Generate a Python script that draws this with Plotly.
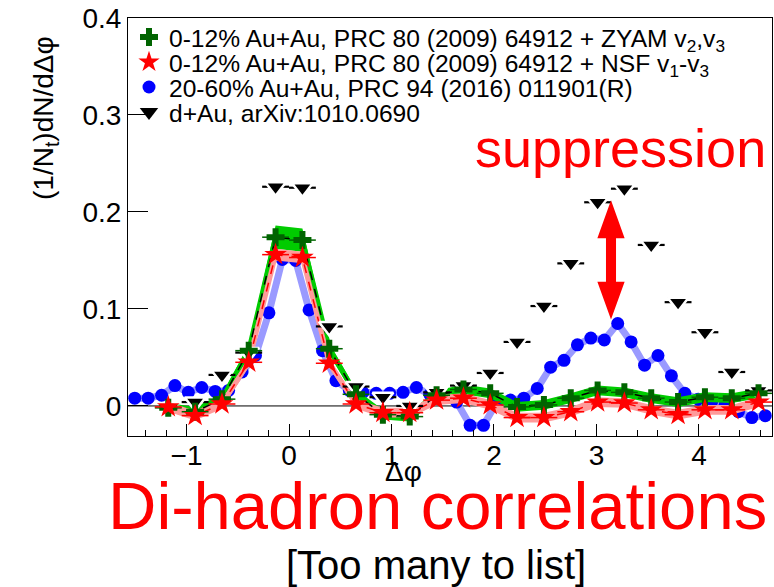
import plotly.graph_objects as go
import numpy as np

# ---------------- data ----------------
# PRC 80 (2009) 064912 bins (pi/12 wide)
prc80_x = [-1.178, -0.916, -0.654, -0.393, -0.131, 0.131, 0.393, 0.654, 0.916, 1.178,
           1.440, 1.702, 1.963, 2.225, 2.487, 2.749, 3.011, 3.272, 3.534, 3.796,
           4.058, 4.320, 4.581]
zyam_y = [-0.002, -0.006, 0.007, 0.057, 0.174, 0.171, 0.059, 0.012, -0.009, -0.011,
          0.011, 0.017, 0.013, -0.001, 0.001, 0.008, 0.016, 0.014, 0.008, 0.004,
          0.009, 0.008, 0.013]
zyam_sys = [0.005, 0.005, 0.005, 0.006, 0.012, 0.012, 0.006, 0.005, 0.005, 0.005,
            0.005, 0.005, 0.005, 0.005, 0.005, 0.005, 0.005, 0.005, 0.005, 0.005,
            0.005, 0.005, 0.005]
nsf_y = [-0.001, -0.010, 0.002, 0.045, 0.156, 0.153, 0.044, 0.002, -0.007, -0.007,
         0.006, 0.008, 0.001, -0.012, -0.012, -0.006, 0.004, 0.003, -0.004, -0.009,
         -0.004, -0.004, 0.004]
nsf_sys = [0.005, 0.005, 0.005, 0.005, 0.006, 0.006, 0.005, 0.005, 0.005, 0.005,
           0.005, 0.005, 0.005, 0.005, 0.005, 0.005, 0.005, 0.005, 0.005, 0.005,
           0.005, 0.005, 0.005]
bin_half = 0.131

# PRC 94 (2016) 011901(R) bins (pi/24 wide)
prc94_x = [-1.505, -1.374, -1.243, -1.113, -0.982, -0.851, -0.720, -0.589, -0.458, -0.327,
           -0.196, -0.065, 0.065, 0.196, 0.327, 0.458, 0.589, 0.720, 0.851, 0.982,
           1.113, 1.243, 1.374, 1.505, 1.636, 1.767, 1.898, 2.029, 2.160, 2.291,
           2.422, 2.553, 2.683, 2.814, 2.945, 3.076, 3.207, 3.338, 3.469, 3.600,
           3.731, 3.862, 3.992, 4.123, 4.254, 4.385, 4.516, 4.647]
prc94_y = [0.008, 0.008, 0.011, 0.021, 0.014, 0.019, 0.015, 0.016, 0.035, 0.052,
           0.096, 0.151, 0.150, 0.099, 0.057, 0.026, 0.016, 0.014, 0.013, 0.013,
           0.014, 0.019, 0.012, 0.010, 0.004, -0.020, -0.020, 0.004, 0.006, 0.008,
           0.018, 0.040, 0.047, 0.063, 0.070, 0.068, 0.085, 0.066, 0.042, 0.052,
           0.031, 0.013, 0.007, 0.004, 0.001, -0.006, -0.012, -0.010]

# d+Au, arXiv:1010.0690
dau_x = [-0.916, -0.654, -0.393, -0.131, 0.131, 0.393, 0.654, 0.916, 1.178, 1.440,
         1.702, 1.963, 2.225, 2.487, 2.749, 3.011, 3.272, 3.534, 3.796, 4.058,
         4.320, 4.581]
dau_y = [0.004, 0.032, 0.055, 0.226, 0.225, 0.082, 0.020, 0.009, 0.000, 0.014,
         0.021, 0.034, 0.066, 0.103, 0.147, 0.210, 0.224, 0.166, 0.107, 0.076,
         0.035, 0.016]

x_range = [-np.pi / 2, 3 * np.pi / 2]
y_range = [-0.031, 0.4]
x_ticks = [-1, 0, 1, 2, 3, 4]
x_ticktext = ["\u22121", "0", "1", "2", "3", "4"]
y_ticks = [0, 0.1, 0.2, 0.3, 0.4]
y_ticktext = ["0", "0.1", "0.2", "0.3", "0.4"]

leg_zyam = "0-12% Au+Au, PRC 80 (2009) 64912 + ZYAM v<sub>2</sub>,v<sub>3</sub>"
leg_nsf = "0-12% Au+Au, PRC 80 (2009) 64912 + NSF v<sub>1</sub>-v<sub>3</sub>"
leg_prc94 = "20-60% Au+Au, PRC 94 (2016) 011901(R)"
leg_dau = "d+Au, arXiv:1010.0690"

FONT = "Liberation Sans, Arial, sans-serif"

W, H = 774, 587
L, R, T, B = 128, 2, 18, 151
PW, PH = W - L - R, H - T - B


def xp(px):
    return (px - L) / PW


def yp(py):
    return (H - B - py) / PH


def band(xs, ys, sys):
    up = [y + s for y, s in zip(ys, sys)]
    lo = [y - s for y, s in zip(ys, sys)]
    return list(xs) + list(xs[::-1]), up + lo[::-1]


fig = go.Figure()

# zero line
fig.add_trace(go.Scatter(x=x_range, y=[0, 0], mode="lines",
                         line=dict(color="black", width=1), showlegend=False,
                         hoverinfo="skip"))

# PRC94 line + markers
fig.add_trace(go.Scatter(x=prc94_x, y=prc94_y, mode="lines",
                         line=dict(color="#9a9aff", width=7), showlegend=False,
                         hoverinfo="skip"))
fig.add_trace(go.Scatter(x=prc94_x, y=prc94_y, mode="markers", name=leg_prc94,
                         marker=dict(symbol="circle", size=13, color="#0000ff"),
                         legend="legend3"))

# ZYAM band
bx, by = band(prc80_x, zyam_y, zyam_sys)
fig.add_trace(go.Scatter(x=prc80_x, y=zyam_y, mode="lines",
                         line=dict(color="#00cc00", width=5), showlegend=False,
                         hoverinfo="skip"))
fig.add_trace(go.Scatter(x=bx, y=by, fill="toself", fillcolor="#00cc00", mode="lines",
                         line=dict(width=0, color="#00cc00"), showlegend=False,
                         hoverinfo="skip"))
# NSF band
rx, ry = band(prc80_x, nsf_y, nsf_sys)
fig.add_trace(go.Scatter(x=prc80_x, y=nsf_y, mode="lines",
                         line=dict(color="#ff9a9a", width=5), showlegend=False,
                         hoverinfo="skip"))
fig.add_trace(go.Scatter(x=rx, y=ry, fill="toself", fillcolor="#ff9a9a", mode="lines",
                         line=dict(width=0, color="#ff9a9a"), showlegend=False,
                         hoverinfo="skip"))
fig.add_trace(go.Scatter(x=prc80_x, y=zyam_y, mode="lines",
                         line=dict(color="black", width=1.5, dash="dash"),
                         showlegend=False, hoverinfo="skip"))
fig.add_trace(go.Scatter(x=prc80_x, y=nsf_y, mode="lines",
                         line=dict(color="#ff0000", width=1.5, dash="dash"),
                         showlegend=False, hoverinfo="skip"))

# d+Au (data) and its legend key (no data points)
fig.add_trace(go.Scatter(x=dau_x, y=dau_y, mode="markers", name=leg_dau,
                         marker=dict(symbol="triangle-down", size=18, color="black",
                                     line=dict(color="white", width=2.5)),
                         error_x=dict(type="constant", value=bin_half, width=0,
                                      thickness=2.2, color="black"),
                         showlegend=False))
fig.add_trace(go.Scatter(x=[None], y=[None], mode="markers", name=leg_dau,
                         marker=dict(symbol="triangle-down", size=16, color="black"),
                         legend="legend4", hoverinfo="skip"))
# ZYAM markers
fig.add_trace(go.Scatter(x=prc80_x, y=zyam_y, mode="markers", name=leg_zyam,
                         marker=dict(symbol="cross", size=15, color="#006400"),
                         error_x=dict(type="constant", value=bin_half, width=0,
                                      thickness=1.5, color="#006400"),
                         legend="legend"))
# NSF markers
fig.add_trace(go.Scatter(x=prc80_x, y=nsf_y, mode="markers", name=leg_nsf,
                         marker=dict(symbol="star", size=17, color="#ff0000"),
                         error_x=dict(type="constant", value=bin_half, width=0,
                                      thickness=1.5, color="#ff0000"),
                         legend="legend2"))

# double arrow "suppression"
cx = np.pi
y_top, y_bot = 0.212, 0.089
hl, hw, sw = 0.039, 0.133, 0.049
path = (f"M {cx},{y_top} L {cx+hw},{y_top-hl} L {cx+sw},{y_top-hl} "
        f"L {cx+sw},{y_bot+hl} L {cx+hw},{y_bot+hl} L {cx},{y_bot} "
        f"L {cx-hw},{y_bot+hl} L {cx-sw},{y_bot+hl} L {cx-sw},{y_top-hl} "
        f"L {cx-hw},{y_top-hl} Z")
fig.add_shape(type="path", path=path, xref="x", yref="y",
              fillcolor="#ff0000", line=dict(width=0), layer="above")

annos = [
    dict(text="suppression", x=xp(620), y=yp(148), font=dict(size=54, color="#ff0000")),
    dict(text="Di-hadron correlations", x=xp(437), y=yp(505),
         font=dict(size=67, color="#ff0000")),
    dict(text="[Too many to list]", x=xp(436), y=yp(565),
         font=dict(size=40, color="black")),
    dict(text="Δφ", x=xp(403), y=yp(471), font=dict(size=28, color="black")),
    dict(text="(1/N<sub>t</sub>)dN/dΔφ", x=xp(45), y=yp(118), textangle=-90,
         font=dict(size=28, color="black")),
]
for a in annos:
    fig.add_annotation(xref="paper", yref="paper", showarrow=False,
                       xanchor="center", yanchor="middle", **a)

leg_common = dict(xanchor="left", yanchor="middle", bgcolor="rgba(0,0,0,0)",
                  borderwidth=0, font=dict(size=24.6, family=FONT, color="black"),
                  itemsizing="trace", tracegroupgap=0)
leg_rows = [37, 62, 87, 112]

fig.update_layout(
    width=W, height=H,
    margin=dict(l=L, r=R, t=T, b=B, pad=0),
    paper_bgcolor="white", plot_bgcolor="white",
    font=dict(family=FONT, color="black"),
    showlegend=True,
    legend=dict(x=xp(129), y=yp(leg_rows[0]), **leg_common),
    legend2=dict(x=xp(129), y=yp(leg_rows[1]), **leg_common),
    legend3=dict(x=xp(129), y=yp(leg_rows[2]), **leg_common),
    legend4=dict(x=xp(129), y=yp(leg_rows[3]), **leg_common),
    xaxis=dict(range=x_range, showgrid=False, zeroline=False,
               showline=True, linecolor="black", linewidth=1, mirror=True,
               ticks="inside", tickvals=x_ticks, ticktext=x_ticktext,
               ticklen=12, tickwidth=1, tickcolor="black",
               tickfont=dict(size=28, family=FONT), ticklabelstandoff=-6,
               minor=dict(ticks="inside", dtick=0.2, tick0=0, ticklen=6,
                          tickcolor="black", showgrid=False)),
    yaxis=dict(range=y_range, showgrid=False, zeroline=False,
               showline=True, linecolor="black", linewidth=1, mirror=True,
               ticks="inside", tickvals=y_ticks, ticktext=y_ticktext,
               ticklen=20, tickwidth=1, tickcolor="black",
               tickfont=dict(size=28, family=FONT)),
)

fig.write_html("out.html")
